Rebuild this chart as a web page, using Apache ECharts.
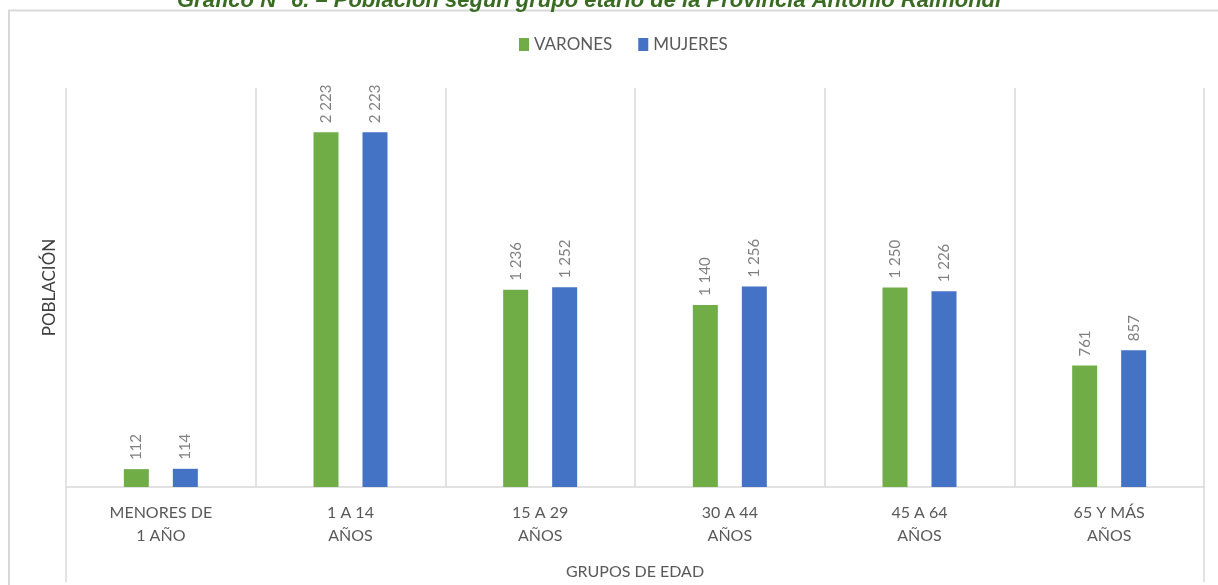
<!DOCTYPE html>
<html>
<head>
<meta charset="utf-8">
<script src="https://cdn.jsdelivr.net/npm/echarts@6/dist/echarts.min.js"></script>
<style>
html,body{margin:0;padding:0;background:#fff;}
#chart{width:1218px;height:585px;}
</style>
</head>
<body>
<div id="chart"></div>
<script>
const titleText = 'Gráfico N° 6. – Población según grupo etario de la Provincia Antonio Raimondi';
const categories = ['MENORES DE\n1 AÑO', '1 A 14\nAÑOS', '15 A 29\nAÑOS', '30 A 44\nAÑOS', '45 A 64\nAÑOS', '65 Y MÁS\nAÑOS'];
const varones = [112, 2223, 1236, 1140, 1250, 761];
const mujeres = [114, 2223, 1252, 1256, 1226, 857];
const seriesNames = ['VARONES', 'MUJERES'];
const xAxisName = 'GRUPOS DE EDAD';
const yAxisName = 'POBLACIÓN';

const FONT = 'Lato, "Open Sans", sans-serif';
const fmt = v => String(v).replace(/\B(?=(\d{3})+(?!\d))/g, ' ');

const chart = echarts.init(document.getElementById('chart'), null, {renderer: 'canvas'});
const labelCfg = {
  show: true, position: 'top', rotate: 90, distance: 9,
  align: 'left', verticalAlign: 'middle',
  color: '#7f7f7f', fontSize: 15, fontFamily: FONT,
  formatter: p => fmt(p.value)
};
chart.setOption({
  animation: false,
  backgroundColor: '#ffffff',
  title: {
    text: titleText, left: 172, top: -15,
    textStyle: {color: '#3a6b22', fontSize: 22, fontWeight: 'bold', fontStyle: 'italic', fontFamily: '"Liberation Sans", Arial, sans-serif'}
  },
  legend: {
    data: seriesNames, top: 31, left: 514, icon: 'rect',
    itemWidth: 10, itemHeight: 13, itemGap: 26,
    textStyle: {color: '#595959', fontSize: 17, fontFamily: FONT}
  },
  grid: {left: 66, right: 14, top: 88, bottom: 98, containLabel: false, outerBoundsMode: 'none'},
  xAxis: {
    type: 'category', data: categories,
    name: xAxisName, nameLocation: 'middle', nameGap: 77,
    nameTextStyle: {color: '#595959', fontSize: 16, fontFamily: FONT},
    axisLine: {show: true, lineStyle: {color: '#d9d9d9', width: 1.5}},
    axisTick: {show: false},
    axisLabel: {color: '#595959', fontSize: 16, fontFamily: FONT, margin: 14, lineHeight: 23, interval: 0},
    splitLine: {show: true, lineStyle: {color: '#d9d9d9', width: 1.5}}
  },
  yAxis: {
    type: 'value', min: 0, max: 2500, interval: 500,
    name: yAxisName, nameLocation: 'middle', nameGap: 8,
    nameTextStyle: {color: '#404040', fontSize: 17, fontFamily: FONT},
    axisLine: {show: false}, axisTick: {show: false}, axisLabel: {show: false},
    splitLine: {show: false}
  },
  series: [
    {name: seriesNames[0], type: 'bar', data: varones, barWidth: 25, barGap: '96%',
     itemStyle: {color: '#70ad47'}, label: labelCfg},
    {name: seriesNames[1], type: 'bar', data: mujeres, barWidth: 25,
     itemStyle: {color: '#4472c4'}, label: labelCfg}
  ],
  graphic: [
    {type: 'line', shape: {x1: 8, y1: 10.5, x2: 1218, y2: 10.5}, style: {stroke: '#d9d9d9', lineWidth: 2}, silent: true},
    {type: 'line', shape: {x1: 9, y1: 10, x2: 9, y2: 585}, style: {stroke: '#d9d9d9', lineWidth: 2}, silent: true},
    {type: 'line', shape: {x1: 66, y1: 487, x2: 66, y2: 582}, style: {stroke: '#d9d9d9', lineWidth: 1.5}, silent: true},
    {type: 'line', shape: {x1: 1204, y1: 487, x2: 1204, y2: 582}, style: {stroke: '#d9d9d9', lineWidth: 1.5}, silent: true}
  ]
});
</script>
</body>
</html>
